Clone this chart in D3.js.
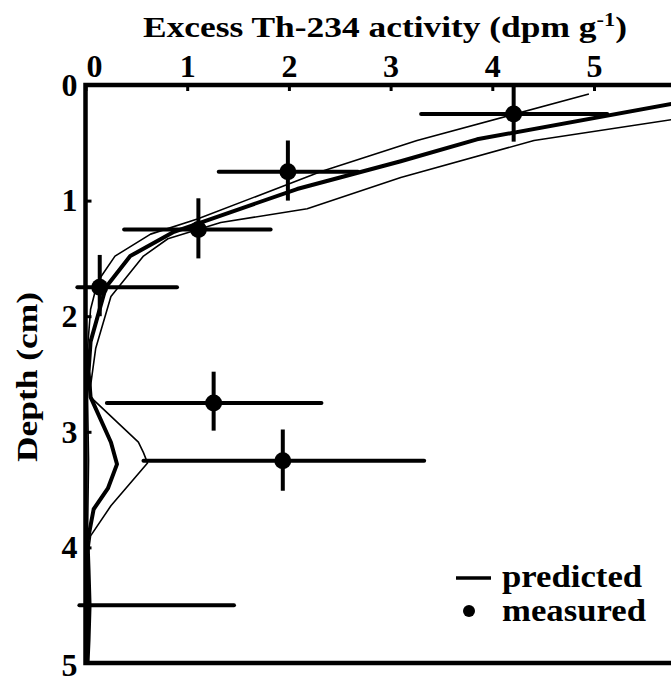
<!DOCTYPE html>
<html>
<head>
<meta charset="utf-8">
<script src="https://cdn.jsdelivr.net/npm/d3@7"></script>
<style>
	body{ margin:0; background:#fff; }
	svg text{ font-family:"Liberation Serif","Times New Roman",serif; font-weight:bold; fill:#000; }
</style>
</head>
<body>
<svg id="chart" width="671" height="679"></svg>
<script>
// measured excess Th-234, one row per depth slice
var measDepth = [0.25, 0.75, 1.25, 1.75, 2.75, 3.25, 4.5];
var measAct = [4.21, 1.99, 1.11, 0.14, 1.26, 1.94, null];
var actLo = [3.30, 1.31, 0.38, -0.08, 0.21, 0.57, -0.06];
var actHi = [5.13, 2.68, 1.82, 0.90, 2.32, 3.33, 1.46];
var depthLo = [0, 0.48, 0.98, 1.47, 2.48, 2.98, null];
var depthHi = [0.49, 1.0, 1.5, 2.0, 2.99, 3.51, null];

// predicted profiles (mean and bounds)
var predDepth = [0.10, 0.164, 0.47, 0.66, 0.90, 1.27, 1.48, 1.75, 2.0, 2.22, 2.48, 2.70, 3.09, 3.28, 3.49, 3.67, 3.95, 4.2, 4.5, 4.8, 5.0];
var predMean = [6.4, 5.76, 3.85, 3.10, 2.08, 0.87, 0.44, 0.20, 0.12, 0.05, 0.03, 0.05, 0.25, 0.31, 0.22, 0.08, 0.02, 0.03, 0.04, 0.03, 0.02];

var lowDepth = [0.078, 0.48, 0.75, 1.16, 1.29, 1.48, 1.70, 1.94, 2.28, 2.70, 3.25, 3.9, 5.0];
var lowAct = [4.95, 3.26, 2.31, 1.10, 0.64, 0.29, 0.12, 0.05, 0.02, 0.02, 0.03, 0.02, 0.02];

var highDepth = [0.10, 0.30, 0.48, 0.80, 1.07, 1.19, 1.33, 1.48, 1.83, 2.28, 2.60, 2.70, 3.09, 3.18, 3.27, 3.64, 3.90, 4.1];
var highAct = [7.2, 5.76, 4.41, 3.10, 2.18, 1.33, 0.81, 0.57, 0.25, 0.10, 0.05, 0.05, 0.52, 0.57, 0.61, 0.25, 0.05, 0.02];

var xTicks = [0, 1, 2, 3, 4, 5];
var yTicks = [0, 1, 2, 3, 4, 5];

(function(){
	var left = 85.5, top = 85, right = 671, bottom = 663;
	var svg = d3.select("#chart");

	var x = d3.scaleLinear().domain([0, (right - left) / 101.7]).range([left, right]);
	var y = d3.scaleLinear().domain([0, 5]).range([top, bottom]);

	svg.append("defs").append("clipPath").attr("id", "plotClip")
		.append("rect")
		.attr("x", left).attr("y", top)
		.attr("width", right - left).attr("height", bottom - top);

	// title, stretched a bit to match the original's wide bold type
	var title = svg.append("text")
		.attr("transform", "translate(385,37) scale(1.18,1)")
		.attr("text-anchor", "middle")
		.style("font-size", "30px")
		.text("Excess Th-234 activity (dpm g");
	title.append("tspan").attr("dy", -11).style("font-size", "19px").text("-1");
	title.append("tspan").attr("dy", 11).text(")");

	svg.append("text")
		.attr("transform", "translate(37,377) rotate(-90) scale(1.18,1)")
		.attr("text-anchor", "middle")
		.style("font-size", "30px")
		.text("Depth (cm)");

	// axes
	var xAxis = d3.axisTop(x).tickValues(xTicks).tickFormat(d3.format("d"))
		.tickSizeInner(-6).tickSizeOuter(0).tickPadding(8);
	var gx = svg.append("g").attr("transform", "translate(0," + top + ")").call(xAxis);
	gx.select(".domain").remove();
	gx.selectAll(".tick line").attr("stroke", "#000").attr("stroke-width", 3);
	gx.selectAll(".tick text")
		.attr("font-family", null).attr("font-size", null)
		.style("font-size", "32px")
		.attr("dx", function(d){ return d === 0 ? 8.5 : 0; });

	var yAxis = d3.axisLeft(y).tickValues(yTicks).tickFormat(d3.format("d"))
		.tickSizeInner(-6).tickSizeOuter(0).tickPadding(8);
	var gy = svg.append("g").attr("transform", "translate(" + left + ",0)").call(yAxis);
	gy.select(".domain").remove();
	gy.selectAll(".tick line").attr("stroke", "#000").attr("stroke-width", 3);
	gy.selectAll(".tick text")
		.attr("font-family", null).attr("font-size", null)
		.style("font-size", "32px")
		.attr("dy", function(d){ return d === 5 ? "0.4em" : "0.32em"; });

	svg.append("path")
		.attr("d", "M" + right + "," + top + "H" + left + "V" + bottom + "H" + right)
		.attr("fill", "none").attr("stroke", "#000").attr("stroke-width", 4.5);

	// predicted lines
	var plot = svg.append("g").attr("clip-path", "url(#plotClip)");
	function profile(depths, acts, width){
		var line = d3.line()
			.x(function(d, i){ return x(acts[i]); })
			.y(function(d){ return y(d); });
		plot.append("path")
			.datum(depths)
			.attr("d", line)
			.attr("fill", "none")
			.attr("stroke", "#000")
			.attr("stroke-width", width)
			.attr("stroke-linejoin", "round");
	}
	profile(lowDepth, lowAct, 1.6);
	profile(highDepth, highAct, 1.6);
	profile(predDepth, predMean, 4);

	// measured with error bars
	var rows = measDepth.map(function(d, i){
		return {depth: d, act: measAct[i], lo: actLo[i], hi: actHi[i], dLo: depthLo[i], dHi: depthHi[i]};
	});
	var g = svg.append("g");
	g.selectAll("line.hbar").data(rows).enter().append("line")
		.attr("x1", function(d){ return x(d.lo); })
		.attr("x2", function(d){ return x(d.hi); })
		.attr("y1", function(d){ return y(d.depth); })
		.attr("y2", function(d){ return y(d.depth); })
		.attr("stroke", "#000").attr("stroke-width", 4).attr("stroke-linecap", "round");
	var pts = rows.filter(function(d){ return d.act !== null; });
	g.selectAll("line.vbar").data(pts).enter().append("line")
		.attr("x1", function(d){ return x(d.act); })
		.attr("x2", function(d){ return x(d.act); })
		.attr("y1", function(d){ return y(d.dLo); })
		.attr("y2", function(d){ return y(d.dHi); })
		.attr("stroke", "#000").attr("stroke-width", 4);
	g.selectAll("circle").data(pts).enter().append("circle")
		.attr("cx", function(d){ return x(d.act); })
		.attr("cy", function(d){ return y(d.depth); })
		.attr("r", 8.5).attr("fill", "#000");

	// legend
	var lg = svg.append("g");
	lg.append("line").attr("x1", 456).attr("x2", 491).attr("y1", 578).attr("y2", 578)
		.attr("stroke", "#000").attr("stroke-width", 3.5);
	lg.append("text").attr("transform", "translate(502,587) scale(1.085,1)")
		.style("font-size", "32px").text("predicted");
	lg.append("circle").attr("cx", 469).attr("cy", 611).attr("r", 6).attr("fill", "#000");
	lg.append("text").attr("transform", "translate(502,621) scale(1.085,1)")
		.style("font-size", "32px").text("measured");
}());
</script>
</body>
</html>
